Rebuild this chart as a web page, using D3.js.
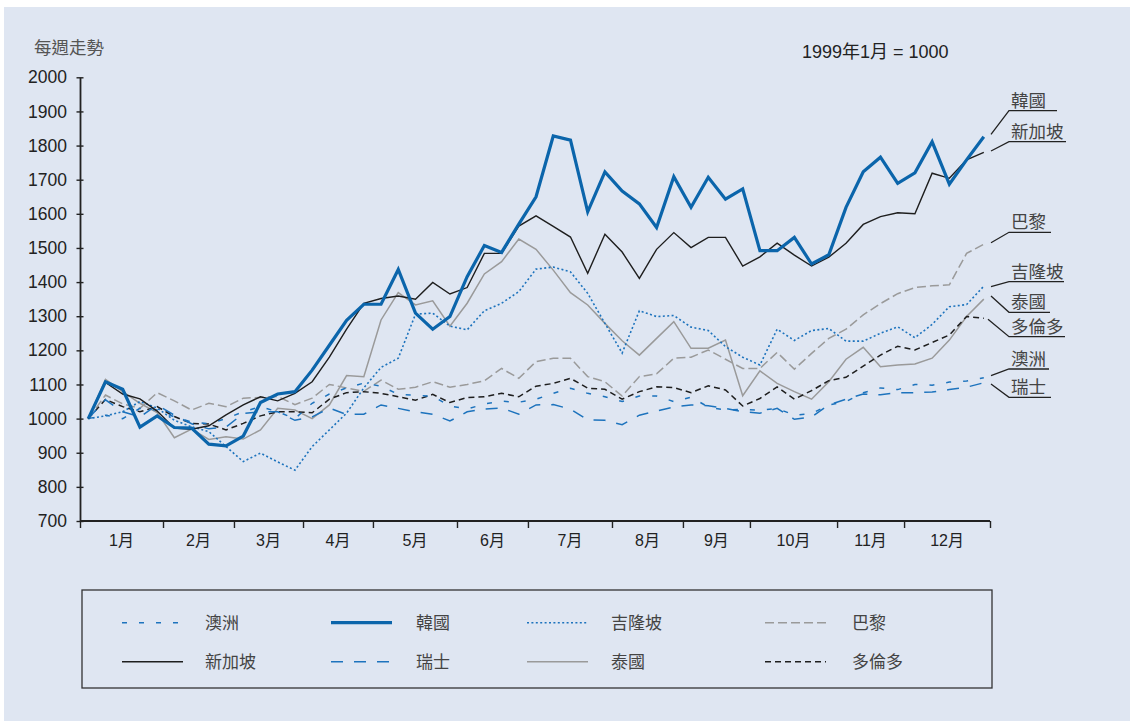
<!DOCTYPE html>
<html><head><meta charset="utf-8">
<script src="https://cdn.jsdelivr.net/npm/d3@7"></script>
<style>
html,body{margin:0;padding:0;background:#ffffff;}
svg{display:block;}
</style></head>
<body>
<svg id="chart" width="1140" height="721"></svg>
<script>
// ---------- data ----------
const monthLabels = ["1月","2月","3月","4月","5月","6月","7月","8月","9月","10月","11月","12月"];
// month boundaries in week-index units
const monthBounds = [-0.48, 4.34, 8.46, 12.47, 16.53, 21.41, 25.53, 30.41, 34.53, 38.42, 43.48, 47.37, 52.36];
const yTicks = [700,800,900,1000,1100,1200,1300,1400,1500,1600,1700,1800,1900,2000];

const australia = [1000,1010,1000,1030,1025,1005,990,985,1000,1020,1035,1020,1000,1045,1072,1090,1104,1095,1071,1068,1066,1037,1028,1043,1051,1048,1057,1074,1089,1074,1064,1050,1066,1066,1050,1063,1034,1025,1027,1025,1030,1010,1015,1040,1050,1076,1090,1085,1100,1098,1107,1110,1120];
const korea = [1000,1108,1086,975,1008,974,972,925,920,949,1047,1072,1079,1142,1215,1288,1335,1335,1437,1309,1262,1299,1416,1507,1487,1570,1650,1828,1816,1606,1723,1667,1629,1560,1709,1619,1707,1643,1673,1492,1492,1531,1453,1480,1619,1723,1766,1689,1720,1811,1687,1758,1826];
const kualaLumpur = [1000,1008,1020,1050,1031,995,976,962,918,874,899,873,849,918,967,1016,1090,1150,1177,1306,1309,1271,1260,1316,1338,1372,1438,1444,1430,1367,1279,1192,1316,1299,1302,1268,1258,1211,1180,1157,1262,1229,1258,1264,1227,1227,1250,1269,1237,1276,1328,1334,1388];
const paris = [1000,1069,1043,1030,1076,1052,1025,1045,1035,1060,1062,1065,1041,1060,1100,1090,1080,1113,1086,1092,1108,1092,1100,1111,1147,1118,1167,1177,1177,1123,1108,1066,1123,1131,1177,1180,1201,1174,1147,1147,1194,1145,1191,1235,1262,1304,1337,1366,1384,1389,1392,1484,1511];
const singapore = [1000,1106,1072,1058,1022,972,969,979,1011,1040,1064,1052,1074,1108,1180,1262,1338,1352,1359,1350,1399,1365,1384,1484,1484,1564,1594,1563,1532,1426,1540,1488,1411,1496,1545,1501,1531,1531,1447,1474,1514,1479,1447,1473,1514,1569,1592,1603,1600,1719,1704,1758,1780];
const swiss = [1000,1055,1020,1005,1040,1010,985,970,975,1015,1020,1020,995,1005,1031,1012,1013,1040,1030,1020,1013,993,1020,1028,1031,1013,1040,1041,1028,996,995,982,1010,1022,1034,1040,1038,1030,1020,1016,1030,998,1005,1040,1057,1072,1070,1076,1076,1078,1085,1092,1105];
const thailand = [1000,1115,1079,1045,1018,944,969,939,947,940,967,1030,1025,1000,1040,1126,1123,1289,1369,1333,1345,1271,1338,1424,1460,1526,1496,1435,1369,1333,1279,1228,1186,1235,1284,1206,1206,1230,1067,1140,1103,1079,1057,1108,1174,1209,1152,1157,1160,1177,1230,1299,1350];
const toronto = [1000,1056,1035,1020,1035,1006,986,984,967,986,1008,1020,1020,1017,1057,1076,1079,1074,1064,1054,1071,1047,1062,1064,1074,1064,1095,1103,1118,1089,1086,1057,1079,1093,1091,1076,1096,1084,1037,1059,1093,1057,1082,1111,1121,1154,1186,1212,1201,1223,1245,1299,1294];

// ---------- styles ----------
const BLUE = "#0b65ab", LBLUE = "#1d73bd", GREY = "#9a9a9a", BLACK = "#1e1e1e";
const series = [
  {name:"巴黎",  values:paris,       color:GREY,  width:1.5, dash:"9,4"},
  {name:"泰國",  values:thailand,    color:GREY,  width:1.5, dash:null},
  {name:"多倫多", values:toronto,     color:BLACK, width:1.5, dash:"6,4"},
  {name:"瑞士",  values:swiss,       color:LBLUE, width:1.5, dash:"12,11"},
  {name:"澳洲",  values:australia,   color:LBLUE, width:1.5, dash:"5,12"},
  {name:"吉隆坡", values:kualaLumpur, color:LBLUE, width:1.6, dash:"2,2.4"},
  {name:"新加坡", values:singapore,   color:BLACK, width:1.4, dash:null},
  {name:"韓國",  values:korea,       color:BLUE,  width:3.2, dash:null}
];
const legendOrder = ["澳洲","韓國","吉隆坡","巴黎","新加坡","瑞士","泰國","多倫多"];

// ---------- layout ----------
const svg = d3.select("#chart");
const CJK = "'Noto Sans CJK TC','Noto Sans CJK SC',sans-serif";
const NUM = "'Liberation Sans',Arial,'Noto Sans CJK TC',sans-serif";

svg.append("rect").attr("x",4).attr("y",7).attr("width",1126).attr("height",714).attr("fill","#dfe6f2");

const x = d3.scaleLinear().domain([monthBounds[0], monthBounds[12]]).range([80, 990]);
const y = d3.scaleLinear().domain([700, 2000]).range([521, 77.3]);

// Y axis
const yAxis = d3.axisLeft(y).tickValues(yTicks).tickSize(0).tickPadding(13).tickFormat(d3.format("d"));
const gy = svg.append("g").attr("transform","translate(80,0)").call(yAxis);
gy.select(".domain").attr("stroke","#222").attr("stroke-width",1.8);
gy.selectAll(".tick text").attr("font-family",NUM).attr("font-size",17.5).attr("fill","#222");
gy.selectAll(".tick").append("line").attr("x1",-3.5).attr("x2",3.5).attr("stroke","#222").attr("stroke-width",1.4);

// X axis
const xAxis = d3.axisBottom(x).tickValues(monthBounds).tickSize(7).tickFormat("");
const gx = svg.append("g").attr("transform","translate(0,521)").call(xAxis);
gx.select(".domain").attr("stroke","#222").attr("stroke-width",1.8).attr("d","M80,0H990");
gx.selectAll(".tick line").attr("stroke","#222").attr("stroke-width",1.4);
svg.append("g").selectAll("text").data(monthLabels).join("text")
  .attr("x",(d,i)=> (x(monthBounds[i])+x(monthBounds[i+1]))/2)
  .attr("y",546).attr("text-anchor","middle")
  .attr("font-family",NUM).attr("font-size",16).attr("fill","#222").text(d=>d);

// titles
svg.append("text").attr("x",34).attr("y",54).attr("font-family",CJK).attr("font-size",17.5)
  .attr("fill","#555").text("每週走勢");
svg.append("text").attr("x",802).attr("y",58).attr("font-family",NUM).attr("font-size",18)
  .attr("fill","#222").text("1999年1月 = 1000");

// lines
const line = d3.line().x((d,i)=>x(i)).y(d=>y(d));
svg.append("g").selectAll("path").data(series).join("path")
  .attr("d",d=>line(d.values)).attr("fill","none")
  .attr("stroke",d=>d.color).attr("stroke-width",d=>d.width)
  .attr("stroke-dasharray",d=>d.dash).attr("stroke-linejoin","miter");

// right labels (layout only)
const labelLayout = [
  {name:"韓國",  ly:134.3, uy:110.7, ux2:1057},
  {name:"新加坡", ly:151,   uy:141.7, ux2:1066},
  {name:"巴黎",  ly:242.7, uy:232.3, ux2:1051},
  {name:"吉隆坡", ly:286.7, uy:281.7, ux2:1064},
  {name:"泰國",  ly:296,   uy:312.3, ux2:1050},
  {name:"多倫多", ly:319.3, uy:336.7, ux2:1065, lx:988},
  {name:"澳洲",  ly:375.7, uy:369,   ux2:1049},
  {name:"瑞士",  ly:384,   uy:397.3, ux2:1051}
];
const lg = svg.append("g");
labelLayout.forEach(l=>{
  lg.append("path").attr("d",`M${l.lx||991},${l.ly}L1009,${l.uy}H${l.ux2}`)
    .attr("fill","none").attr("stroke","#222").attr("stroke-width",1.3);
  lg.append("text").attr("x",1011).attr("y",l.uy-4).attr("font-family",CJK).attr("font-size",17.5)
    .attr("fill","#444").text(l.name);
});

// legend
svg.append("rect").attr("x",82).attr("y",590).attr("width",910).attr("height",98)
  .attr("fill","none").attr("stroke","#333").attr("stroke-width",1.3);
const colSample = [122, 331, 527, 765], colText = [205, 416, 611, 852], rowY = [622.7, 661.7];
legendOrder.forEach((n,i)=>{
  const s = series.find(d=>d.name===n);
  const c = i%4, r = Math.floor(i/4);
  svg.append("line").attr("x1",colSample[c]).attr("x2",colSample[c]+61).attr("y1",rowY[r]).attr("y2",rowY[r])
    .attr("stroke",s.color).attr("stroke-width",s.width).attr("stroke-dasharray",s.dash);
  svg.append("text").attr("x",colText[c]).attr("y",rowY[r]+6).attr("font-family",CJK).attr("font-size",17)
    .attr("fill","#444").text(n);
});
</script>
</body></html>
